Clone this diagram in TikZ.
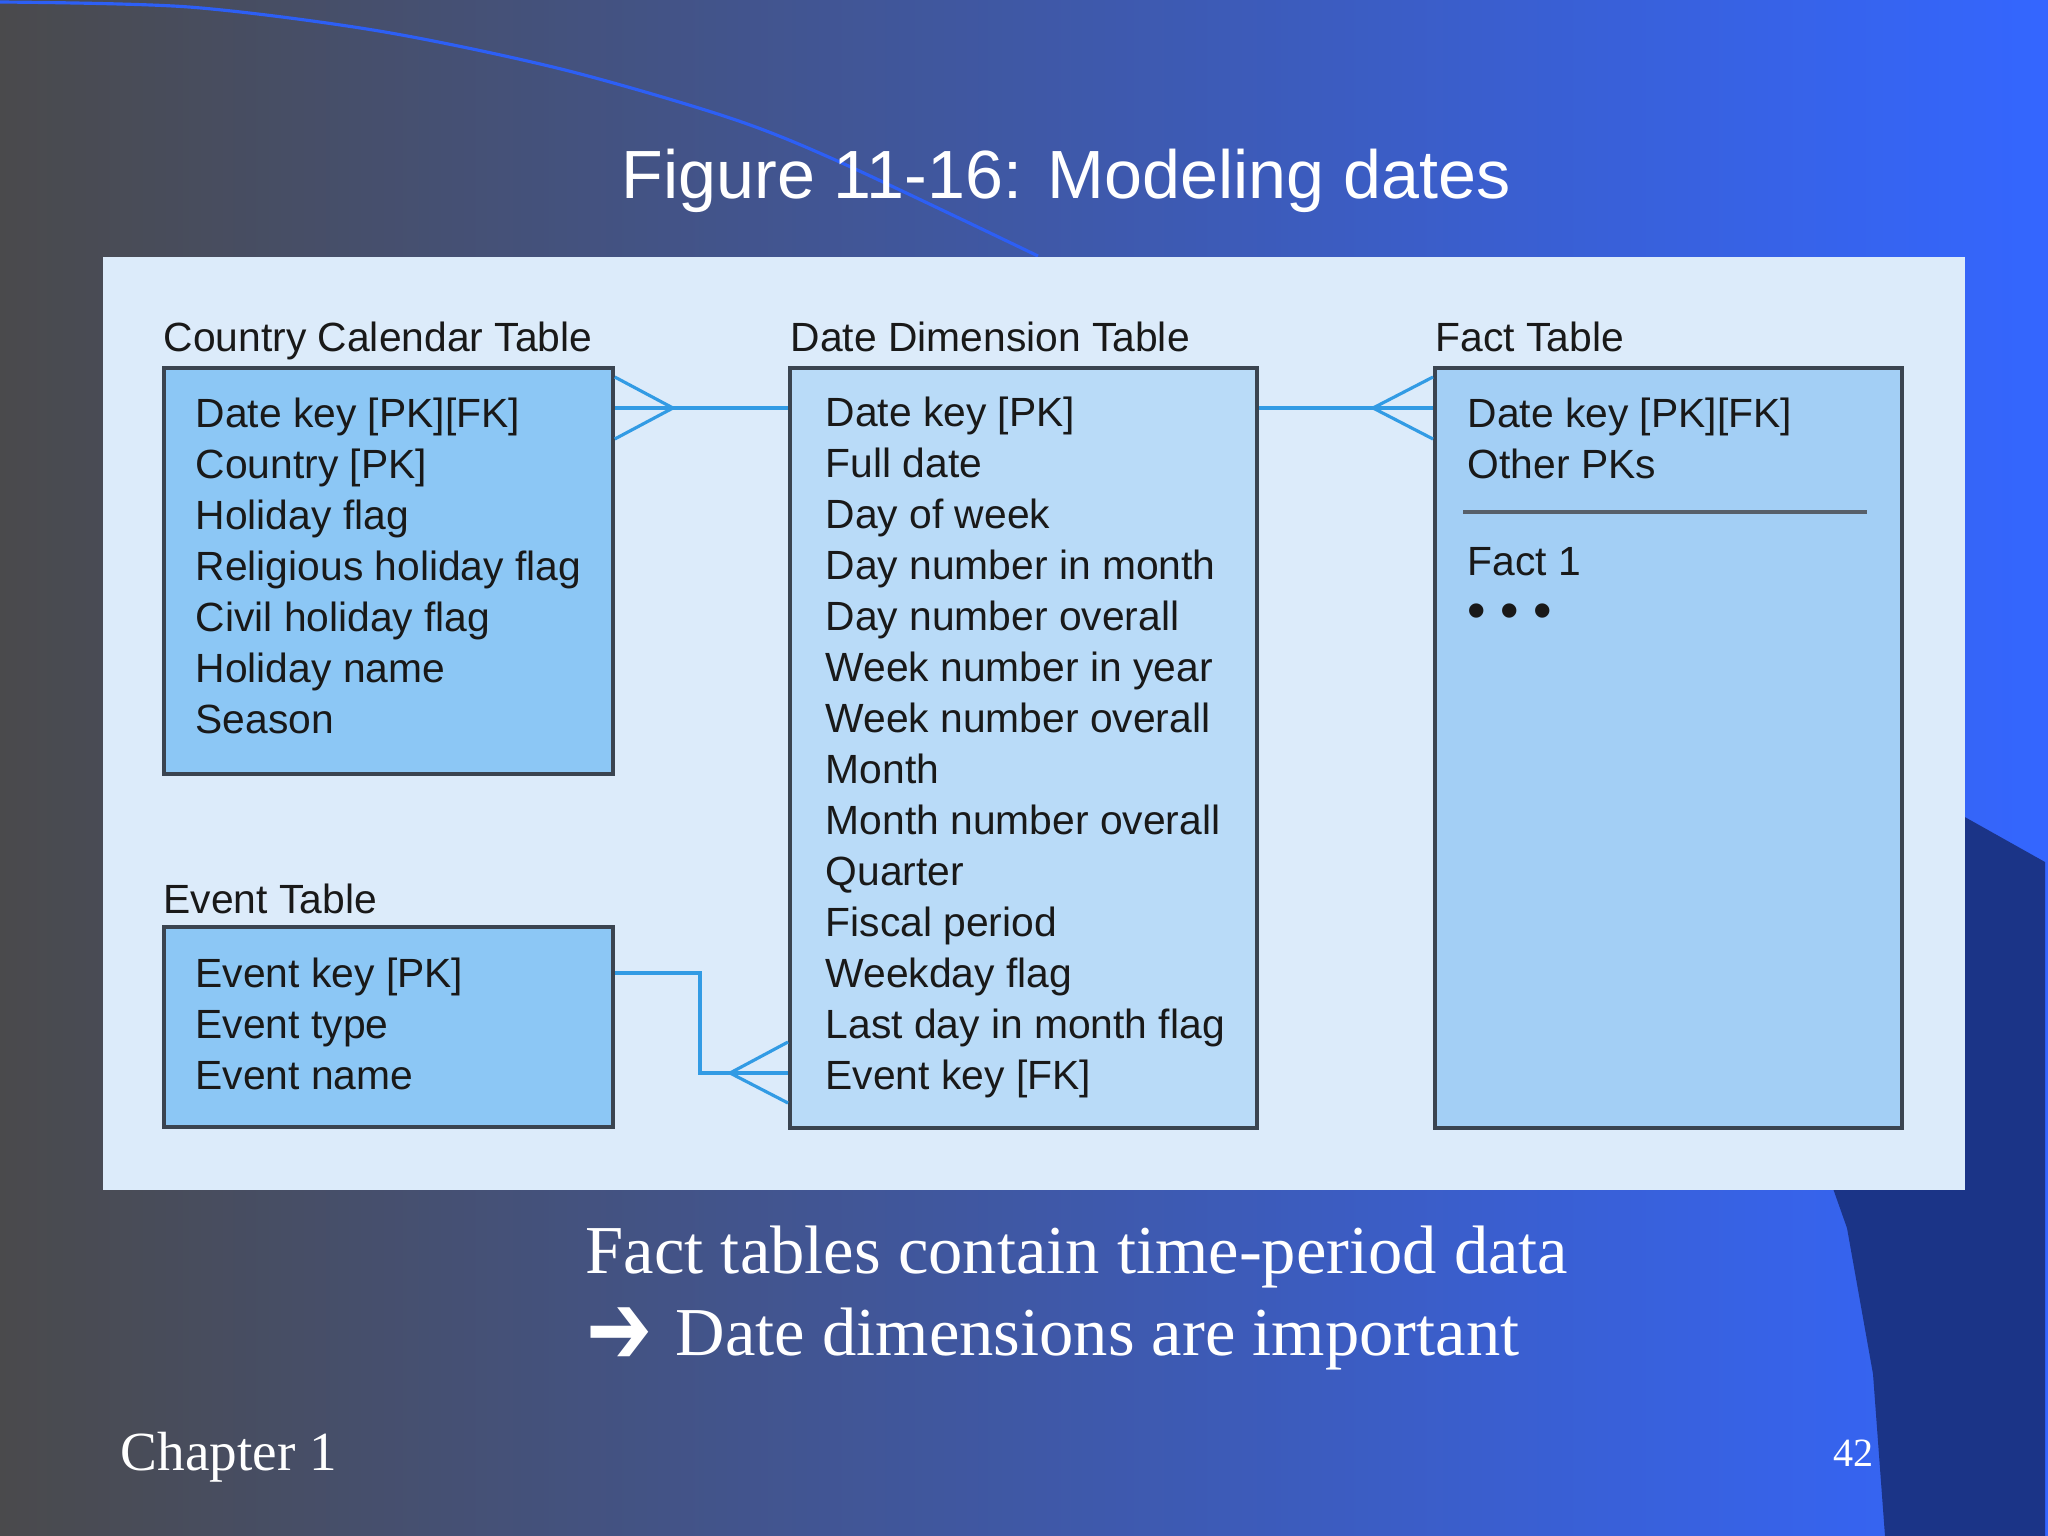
\documentclass[tikz,border=0pt]{standalone}
\usepackage{fontspec}
\setmainfont{Liberation Serif}
\setsansfont{Liberation Sans}
\newfontfamily\arrowfont{DejaVu Sans}
\usetikzlibrary{positioning}

\definecolor{slidegray}{RGB}{74,74,76}
\definecolor{slideblue}{RGB}{52,102,255}
\definecolor{slidedark}{RGB}{27,52,135}
\definecolor{swoosh}{RGB}{45,95,245}
\definecolor{panelbg}{RGB}{220,235,250}
\definecolor{calfill}{RGB}{140,199,245}
\definecolor{dimfill}{RGB}{185,219,248}
\definecolor{factfill}{RGB}{163,207,245}
\definecolor{boxline}{RGB}{58,68,80}
\definecolor{relline}{RGB}{50,155,228}

\tikzset{
  tbl/.style={draw=boxline, line width=1pt, anchor=north west, inner sep=0pt},
  tbltitle/.style={anchor=base west, inner sep=0pt, font=\sffamily\fontsize{11.6}{14}\selectfont, text=black!90},
  attr/.style={anchor=base west, inner sep=0pt, font=\sffamily\fontsize{11.6}{14}\selectfont, text=black!90},
  slidetext/.style={anchor=base west, inner sep=0pt, text=white},
  rel/.style={draw=relline, line width=0.9pt},
}

\begin{document}
\begin{tikzpicture}[x=0.01cm,y=-0.01cm]
\useasboundingbox (0,0) rectangle (2048,1536);

% slide background
\shade[left color=slidegray,right color=slideblue] (0,0) rectangle (2048,1536);
\fill[slidedark] (1900,790) -- (1963,816) -- (2045,862) -- (2045,1536) -- (1885,1536)
  -- (1873,1374) -- (1847,1228) -- (1830,1180) -- cycle;
\draw[swoosh,line width=0.9pt] plot[smooth] coordinates {(0,2) (189,7) (379,31) (561,69) (730,118) (842,163) (1038,256)};

\node[slidetext, font=\sffamily\fontsize{19.4}{23}\selectfont] (title) at (621,198) {Figure 11-16: Modeling dates};

% figure panel
\node[fill=panelbg, anchor=north west, inner sep=0pt, minimum width=18.61cm, minimum height=9.33cm] (panel) at (102,256) {};

\node[tbl, fill=calfill, minimum width=4.49cm, minimum height=4.06cm] (country) at (162,366) {};
\node[tbl, fill=calfill, minimum width=4.49cm, minimum height=2.0cm] (event) at (162,925) {};
\node[tbl, fill=dimfill, minimum width=4.67cm, minimum height=7.6cm] (datedim) at (788,366) {};
\node[tbl, fill=factfill, minimum width=4.67cm, minimum height=7.6cm] (fact) at (1433,366) {};

\node[tbltitle] (countrytitle) at (163,351) {Country Calendar Table};
\node[tbltitle] (eventtitle) at (163,913) {Event Table};
\node[tbltitle] (datetitle) at (790,351) {Date Dimension Table};
\node[tbltitle] (facttitle) at (1435,351) {Fact Table};

\foreach \a [count=\i from 0] in {Date key [PK][FK], Country [PK], Holiday flag,
    Religious holiday flag, Civil holiday flag, Holiday name, Season}
  \node[attr] (country\i) at (195,427+51*\i) {\a};

\foreach \a [count=\i from 0] in {Event key [PK], Event type, Event name}
  \node[attr] (event\i) at (195,987+51*\i) {\a};

\foreach \a [count=\i from 0] in {Date key [PK], Full date, Day of week,
    Day number in month, Day number overall, Week number in year,
    Week number overall, Month, Month number overall, Quarter,
    Fiscal period, Weekday flag, Last day in month flag, Event key [FK]}
  \node[attr] (datedim\i) at (825,426+51*\i) {\a};

\node[attr] (fact0) at (1467,427) {Date key [PK][FK]};
\node[attr] (fact1) at (1467,478) {Other PKs};
\draw[boxline!85, line width=1pt] (1463,512) -- (1867,512);
\node[attr] (fact2) at (1467,575) {Fact 1};
\node[attr, font=\sffamily\fontsize{15}{18}\selectfont] (factmore) at (1467,628) {\textbullet\ \textbullet\ \textbullet};

% relationships
\coordinate (cfcal) at (673,408);
\coordinate (cffact) at (1373,408);
\coordinate (cfevent) at (730,1073);
\coordinate (elbow) at (700,973);

\draw[rel] (country.east |- cfcal) -- (datedim.west |- cfcal);
\draw[rel] (country.east |- 0,377) -- (cfcal) -- (country.east |- 0,439);

\draw[rel] (datedim.east |- cffact) -- (fact.west |- cffact);
\draw[rel] (fact.west |- 0,377) -- (cffact) -- (fact.west |- 0,439);

\draw[rel] (event.east |- elbow) -- (elbow) |- (cfevent) -- (datedim.west |- cfevent);
\draw[rel] (datedim.west |- 0,1042) -- (cfevent) -- (datedim.west |- 0,1103);

% slide text
\node[slidetext, font=\fontsize{19.5}{23}\selectfont] (note1) at (585,1273) {Fact tables contain time-period data};
\node[slidetext, font=\arrowfont\bfseries\fontsize{19.5}{23}\selectfont] (arrow) at (586,1364) {\scalebox{1.15}[1.5]{➔}};
\node[slidetext, font=\fontsize{19.5}{23}\selectfont] (note2) at (675,1355) {Date dimensions are important};

\node[slidetext, font=\fontsize{15.7}{19}\selectfont] (chapter) at (120,1470) {Chapter 1};
\node[slidetext, font=\fontsize{11.4}{14}\selectfont] (pagenum) at (1833,1466) {42};
\end{tikzpicture}
\end{document}
